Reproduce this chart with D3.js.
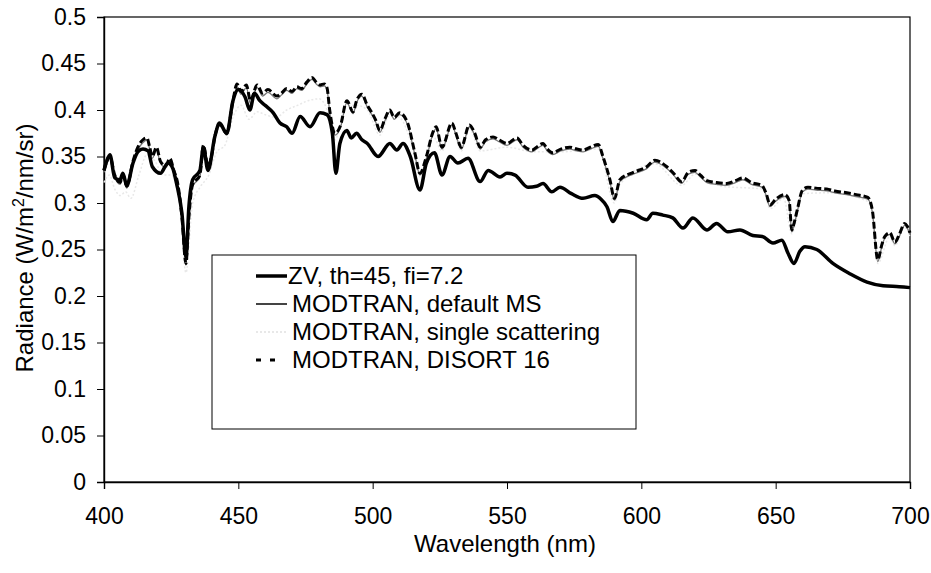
<!DOCTYPE html>
<html>
<head>
<meta charset="utf-8">
<script src="https://cdn.jsdelivr.net/npm/d3@7"></script>
<style>
  body { margin: 0; background: #fff; }
  text { font-family: "Liberation Sans", Arial, sans-serif; fill: #000; }
</style>
</head>
<body>
<svg id="chart" width="931" height="573"></svg>
<script>
// ZV model, th=45, fi=7.2
var zvWl = [400, 401, 402.2, 404, 406, 407, 408.5, 410.8, 412.6, 414.5, 416.4, 418, 421, 423.8, 425.5, 427, 429, 430.5, 431.6, 433,
    435.7, 437, 438.7, 441.3, 443, 445.7, 448, 450, 452.5, 454.3, 456, 458, 460, 463, 465.5, 468, 470, 473, 476.7, 480.4,
    483, 485, 486.3, 487.8, 490.4, 492, 494, 496, 498, 502, 506.4, 509, 511.3, 514, 517.6, 520, 523, 525.8, 528.8, 531.7,
    535.5, 540, 543, 547.4, 550, 553, 557.8, 561, 563.4, 566.7, 569.7, 574, 578.3, 582.7, 585, 587.2, 589.4, 592, 597, 602,
    604.3, 608, 611.7, 615.5, 619.2, 624.4, 628, 632.2, 636.7, 641.5, 645, 649, 652.3, 654.6, 656.8, 659, 660.9, 665.3, 671.3, 677.6,
    684, 690, 696, 700];
var zvRad = [0.335, 0.345, 0.352, 0.327, 0.325, 0.332, 0.319, 0.343, 0.355, 0.358, 0.356, 0.339, 0.332, 0.343, 0.338, 0.321, 0.289, 0.242, 0.296, 0.325,
    0.335, 0.360, 0.335, 0.372, 0.386, 0.375, 0.410, 0.422, 0.414, 0.400, 0.418, 0.410, 0.405, 0.397, 0.386, 0.382, 0.375, 0.393, 0.382, 0.397,
    0.395, 0.375, 0.332, 0.364, 0.378, 0.370, 0.375, 0.368, 0.364, 0.350, 0.364, 0.357, 0.364, 0.350, 0.314, 0.343, 0.354, 0.330, 0.350, 0.343,
    0.348, 0.323, 0.335, 0.328, 0.332, 0.330, 0.317, 0.318, 0.321, 0.312, 0.317, 0.310, 0.305, 0.308, 0.304, 0.296, 0.280, 0.292, 0.289, 0.282,
    0.289, 0.287, 0.284, 0.273, 0.284, 0.271, 0.278, 0.269, 0.271, 0.265, 0.264, 0.257, 0.260, 0.246, 0.235, 0.248, 0.253, 0.250, 0.235, 0.224,
    0.215, 0.211, 0.210, 0.209];

// MODTRAN runs share one wavelength grid
var modWl = [400, 401, 402.2, 404, 406, 407, 408.5, 410.8, 412.6, 414.5, 416, 417, 418, 419.5, 421, 423, 424.5, 426, 427.5, 429,
    430.5, 431.6, 433, 435.7, 437, 438.7, 440, 441.3, 443, 445.7, 448, 449.5, 451, 453, 454.5, 457, 459, 461, 464.4, 466,
    468, 470, 471.8, 473.5, 475.5, 477.4, 479, 480.4, 482, 483, 484, 486, 488, 490.4, 492.7, 494, 496, 498, 499.5, 501,
    502.7, 504.5, 506.4, 508, 510, 513, 515.7, 517.6, 520, 522.4, 523.6, 525.8, 529.5, 531, 533, 536, 538, 540, 542, 544.8,
    547, 550, 553.7, 556, 559.3, 561, 563.4, 565, 567, 570, 573.4, 576, 578.3, 581, 584, 585.7, 588.3, 590, 592, 597,
    602, 605, 609.5, 612, 615, 617.5, 620, 622, 624.4, 628, 631.8, 635, 637.8, 641, 644.9, 646.5, 647.9, 650, 653.4, 655,
    656, 657, 658, 660, 662, 665, 669, 672, 676.5, 680, 684.3, 686, 688, 689.5, 690.6, 692.5, 694.4, 696, 698, 699, 700];
var disortRad = [0.335, 0.345, 0.350, 0.330, 0.322, 0.330, 0.318, 0.345, 0.360, 0.368, 0.370, 0.360, 0.350, 0.360, 0.345, 0.340, 0.348, 0.335, 0.320, 0.285,
    0.235, 0.285, 0.320, 0.330, 0.362, 0.340, 0.350, 0.372, 0.385, 0.375, 0.410, 0.428, 0.420, 0.427, 0.410, 0.427, 0.418, 0.422, 0.415, 0.418,
    0.423, 0.420, 0.425, 0.423, 0.430, 0.435, 0.430, 0.427, 0.428, 0.424, 0.400, 0.375, 0.383, 0.410, 0.398, 0.410, 0.417, 0.405, 0.398, 0.390,
    0.378, 0.390, 0.400, 0.392, 0.397, 0.386, 0.354, 0.332, 0.350, 0.376, 0.382, 0.360, 0.386, 0.375, 0.360, 0.384, 0.375, 0.360, 0.368, 0.371,
    0.368, 0.364, 0.370, 0.362, 0.357, 0.360, 0.364, 0.358, 0.354, 0.358, 0.360, 0.358, 0.357, 0.360, 0.363, 0.350, 0.325, 0.305, 0.325, 0.333,
    0.339, 0.346, 0.339, 0.332, 0.323, 0.333, 0.335, 0.330, 0.324, 0.322, 0.321, 0.324, 0.327, 0.322, 0.319, 0.310, 0.298, 0.304, 0.309, 0.303,
    0.271, 0.280, 0.292, 0.314, 0.317, 0.316, 0.315, 0.313, 0.311, 0.309, 0.306, 0.292, 0.239, 0.255, 0.264, 0.268, 0.258, 0.266, 0.278, 0.275, 0.268];
var msRad = [0.333, 0.342, 0.348, 0.328, 0.320, 0.327, 0.316, 0.342, 0.357, 0.365, 0.368, 0.358, 0.348, 0.357, 0.343, 0.338, 0.345, 0.333, 0.318, 0.283,
    0.233, 0.283, 0.318, 0.328, 0.360, 0.338, 0.348, 0.370, 0.383, 0.373, 0.407, 0.425, 0.417, 0.424, 0.407, 0.424, 0.415, 0.419, 0.412, 0.416,
    0.421, 0.418, 0.423, 0.421, 0.428, 0.433, 0.428, 0.425, 0.426, 0.422, 0.398, 0.373, 0.381, 0.408, 0.396, 0.408, 0.415, 0.403, 0.396, 0.388,
    0.376, 0.388, 0.398, 0.390, 0.395, 0.384, 0.352, 0.330, 0.348, 0.374, 0.380, 0.358, 0.384, 0.373, 0.358, 0.382, 0.373, 0.358, 0.366, 0.369,
    0.366, 0.362, 0.368, 0.360, 0.355, 0.358, 0.362, 0.356, 0.352, 0.356, 0.358, 0.356, 0.355, 0.358, 0.361, 0.348, 0.323, 0.303, 0.323, 0.331,
    0.337, 0.344, 0.337, 0.330, 0.321, 0.331, 0.333, 0.328, 0.322, 0.320, 0.319, 0.322, 0.325, 0.320, 0.317, 0.308, 0.296, 0.302, 0.307, 0.301,
    0.269, 0.278, 0.290, 0.312, 0.315, 0.314, 0.313, 0.311, 0.309, 0.307, 0.304, 0.290, 0.237, 0.253, 0.262, 0.266, 0.256, 0.264, 0.276, 0.273, 0.266];

// single scattering run, drawn very light (mostly hidden under the others)
var ssWl = [400, 402, 404, 406, 408, 410, 413, 416, 419, 422, 425, 428, 430.5, 433, 436, 439, 442, 445, 448, 451,
    454, 457, 460, 464, 468, 472, 476, 480, 484, 486, 490, 494, 498, 502.7, 506.4, 510, 515.7, 517.6, 522.4, 525.8,
    529.5, 533, 536, 540, 550, 560, 570, 584, 590, 592, 605, 615, 620, 630, 645, 648, 653, 656, 660, 670,
    684, 686, 688, 692.5, 694.4, 698, 700];
var ssRad = [0.322, 0.330, 0.315, 0.308, 0.312, 0.305, 0.330, 0.352, 0.345, 0.330, 0.330, 0.305, 0.225, 0.300, 0.318, 0.330, 0.355, 0.362, 0.392, 0.405,
    0.390, 0.398, 0.395, 0.392, 0.400, 0.405, 0.410, 0.412, 0.392, 0.368, 0.405, 0.405, 0.400, 0.373, 0.395, 0.392, 0.350, 0.328, 0.372, 0.356,
    0.382, 0.356, 0.380, 0.356, 0.360, 0.355, 0.355, 0.358, 0.300, 0.320, 0.342, 0.319, 0.331, 0.318, 0.315, 0.294, 0.305, 0.267, 0.310, 0.311,
    0.302, 0.288, 0.235, 0.264, 0.254, 0.274, 0.264];

var seriesNames = ["ZV, th=45, fi=7.2", "MODTRAN, default MS", "MODTRAN, single scattering", "MODTRAN, DISORT 16"];
var series = [
    { name: seriesNames[0], wl: zvWl, rad: zvRad },
    { name: seriesNames[1], wl: modWl, rad: msRad },
    { name: seriesNames[2], wl: ssWl, rad: ssRad },
    { name: seriesNames[3], wl: modWl, rad: disortRad }
];

var xTicks = [400, 450, 500, 550, 600, 650, 700];
var yTicks = [0, 0.05, 0.1, 0.15, 0.2, 0.25, 0.3, 0.35, 0.4, 0.45, 0.5];

// styling per series (same order as series)
var styles = [
    { stroke: "#000", width: 3.5, dash: null },
    { stroke: "#777", width: 1.3, dash: null },
    { stroke: "#e8e8e8", width: 1.5, dash: "2,2" },
    { stroke: "#000", width: 3, dash: "7,3" }
];

var svg = d3.select("#chart");
// plot box (window.top is reserved, so prefix these)
var plotL = 104, plotR = 910, plotT = 17, plotB = 482;

var x = d3.scaleLinear().domain([400, 700]).range([plotL, plotR]);
var y = d3.scaleLinear().domain([0, 0.5]).range([plotB, plotT]);

// frame
svg.append("rect")
    .attr("x", plotL).attr("y", plotT)
    .attr("width", plotR - plotL).attr("height", plotB - plotT)
    .attr("fill", "none").attr("stroke", "#000").attr("stroke-width", 1.2);

// axes
var xAxis = svg.append("g")
    .attr("transform", "translate(0," + plotB + ")")
    .call(d3.axisBottom(x).tickValues(xTicks).tickSize(7).tickPadding(19).tickFormat(d3.format("d")));
var yAxis = svg.append("g")
    .attr("transform", "translate(" + plotL + ",0)")
    .call(d3.axisLeft(y).tickValues(yTicks).tickSize(7).tickPadding(11).tickFormat(function(d) { return String(d); }));
[xAxis, yAxis].forEach(function(g) {
    g.select(".domain").attr("stroke", "#000").attr("stroke-width", 1.4);
    g.selectAll(".tick line").attr("stroke", "#000").attr("stroke-width", 1);
    g.selectAll(".tick text").style("font-size", "23px").attr("fill", "#000");
});

// curves
var line = d3.line().curve(d3.curveMonotoneX);
var drawOrder = [2, 1, 0, 3];
drawOrder.forEach(function(i) {
    var s = series[i], st = styles[i];
    var pts = s.wl.map(function(w, k) { return [x(w), y(s.rad[k])]; });
    svg.append("path")
        .attr("d", line(pts))
        .attr("fill", "none")
        .attr("stroke", st.stroke)
        .attr("stroke-width", st.width)
        .attr("stroke-linejoin", "round")
        .attr("stroke-dasharray", st.dash);
});

// legend
var lg = svg.append("g");
lg.append("rect")
    .attr("x", 212).attr("y", 255).attr("width", 424).attr("height", 174)
    .attr("fill", "#fff").attr("stroke", "#000").attr("stroke-width", 1);
var rowY = [276, 304, 332, 360];
series.forEach(function(s, i) {
    var st = styles[i];
    lg.append("line")
        .attr("x1", 256).attr("x2", i === 3 ? 280 : 287)
        .attr("y1", rowY[i]).attr("y2", rowY[i])
        .attr("stroke", i === 1 ? "#444" : st.stroke)
        .attr("stroke-width", i === 0 ? 3.5 : (i === 3 ? 3 : 2))
        .attr("stroke-dasharray", i === 3 ? "5,9" : st.dash);
    lg.append("text")
        .attr("x", i === 0 ? 288 : 292).attr("y", rowY[i] + 8)
        .style("font-size", "24px")
        .text(s.name);
});

// axis titles
svg.append("text")
    .attr("x", 505).attr("y", 552)
    .attr("text-anchor", "middle")
    .style("font-size", "24px")
    .text("Wavelength (nm)");

var yt = svg.append("text")
    .attr("transform", "translate(33,248) rotate(-90)")
    .attr("text-anchor", "middle")
    .style("font-size", "24px");
yt.append("tspan").text("Radiance (W/m");
yt.append("tspan").attr("dy", -9).style("font-size", "16px").text("2");
yt.append("tspan").attr("dy", 9).text("/nm/sr)");
</script>
</body>
</html>
